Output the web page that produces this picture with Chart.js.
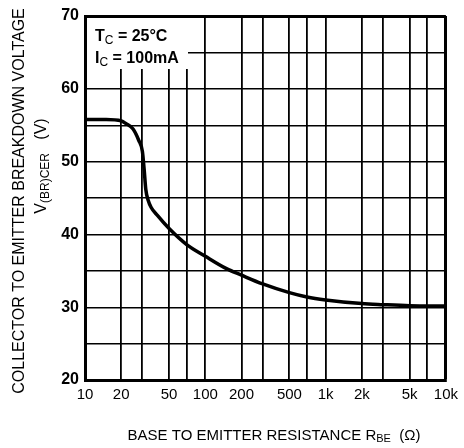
<!DOCTYPE html>
<html>
<head>
<meta charset="utf-8">
<script src="https://cdn.jsdelivr.net/npm/chart.js@4.4.1/dist/chart.umd.min.js"></script>
<style>
  html, body { margin: 0; padding: 0; background: #fff; }
  #wrap { width: 464px; height: 448px; }
</style>
</head>
<body>
<div id="wrap"><canvas id="grafico"></canvas></div>
<script>
// Curva V(BR)CER x RBE
const resistencia = [10, 15, 20, 22, 25, 28, 30, 31, 32, 33.5, 35.5, 40, 50, 70, 100, 150, 200, 300, 500, 700, 1000, 2000, 3000, 5000, 10000];
const tensao = [55.8, 55.8, 55.6, 55.2, 54.5, 52.9, 51.4, 49.0, 46.2, 44.7, 43.7, 42.6, 40.8, 38.6, 37.0, 35.3, 34.4, 33.2, 32.0, 31.4, 31.0, 30.5, 30.35, 30.2, 30.15];

// Grade e rótulos dos eixos
const gradeX = [10, 20, 30, 50, 70, 100, 200, 300, 500, 700, 1000, 2000, 3000, 5000, 7000, 10000];
const rotulosX = { 10: '10', 20: '20', 50: '50', 100: '100', 200: '200', 500: '500', 1000: '1k', 2000: '2k', 5000: '5k', 10000: '10k' };
const rotulosY = [20, 30, 40, 50, 60, 70];

const fonte = '"Liberation Sans", Arial, sans-serif';

// Desenha texto com trechos em subscrito
function textoComposto(ctx, partes, cx, cy) {
    let total = 0;
    partes.forEach(p => {
        ctx.font = p.f;
        total += ctx.measureText(p.t).width;
    });
    let x = cx - total / 2;
    partes.forEach(p => {
        ctx.font = p.f;
        ctx.fillText(p.t, x, cy + (p.dy || 0));
        x += ctx.measureText(p.t).width;
    });
}

const textosPlugin = {
    id: 'textos',
    afterDraw(chart) {
        const ctx = chart.ctx;
        ctx.save();
        ctx.textBaseline = 'alphabetic';

        // Caixa das condições
        ctx.fillStyle = '#fff';
        ctx.fillRect(87, 18, 101, 51);
        ctx.fillStyle = '#000';
        const big = 'bold 16px ' + fonte;
        const sub = '12px ' + fonte;
        ctx.textAlign = 'left';
        let x = 95;
        [{ t: 'T', f: big }, { t: 'C', f: sub, dy: 3 }, { t: ' = 25°C', f: big }].forEach(p => {
            ctx.font = p.f;
            ctx.fillText(p.t, x, 41 + (p.dy || 0));
            x += ctx.measureText(p.t).width;
        });
        x = 95;
        [{ t: 'I', f: big }, { t: 'C', f: sub, dy: 3 }, { t: ' = 100mA', f: big }].forEach(p => {
            ctx.font = p.f;
            ctx.fillText(p.t, x, 63 + (p.dy || 0));
            x += ctx.measureText(p.t).width;
        });

        // Título do eixo X
        textoComposto(ctx, [
            { t: 'BASE TO EMITTER RESISTANCE R', f: '15px ' + fonte },
            { t: 'BE', f: '11px ' + fonte, dy: 2 },
            { t: '  (Ω)', f: '15px ' + fonte }
        ], 274, 440);

        // Título do eixo Y
        ctx.save();
        ctx.translate(24, 201);
        ctx.rotate(-Math.PI / 2);
        textoComposto(ctx, [{ t: 'COLLECTOR TO EMITTER BREAKDOWN VOLTAGE', f: '16px ' + fonte }], 0, 0);
        ctx.restore();
        ctx.save();
        ctx.translate(46, 166);
        ctx.rotate(-Math.PI / 2);
        textoComposto(ctx, [
            { t: 'V', f: '16px ' + fonte },
            { t: '(BR)CER', f: '12px ' + fonte, dy: 3 },
            { t: '   (V)', f: '16px ' + fonte }
        ], 0, 0);
        ctx.restore();
        ctx.restore();
    }
};

document.addEventListener('DOMContentLoaded', function() {
    const ctx = document.getElementById('grafico').getContext('2d');

    const dados = {
        datasets: [{
            data: resistencia.map((r, i) => ({ x: r, y: tensao[i] })),
            borderColor: '#000',
            borderWidth: 3.5,
            pointRadius: 0,
            fill: false,
            cubicInterpolationMode: 'monotone'
        }]
    };

    new Chart(ctx, {
        type: 'line',
        data: dados,
        options: {
            responsive: true,
            maintainAspectRatio: false,
            animation: false,
            layout: {
                padding: { left: 0, top: 16, right: 17, bottom: 0 }
            },
            plugins: {
                legend: { display: false },
                tooltip: { enabled: false }
            },
            scales: {
                x: {
                    type: 'logarithmic',
                    min: 10,
                    max: 10000,
                    afterBuildTicks: function(scale) {
                        scale.ticks = gradeX.map(v => ({ value: v }));
                    },
                    afterFit: function(scale) {
                        scale.height = 68;
                    },
                    border: { display: true, color: '#000', width: 3 },
                    grid: {
                        color: '#000',
                        lineWidth: c => (c.tick && c.tick.value === 10000 ? 3 : 1.8),
                        drawTicks: false
                    },
                    ticks: {
                        autoSkip: false,
                        maxRotation: 0,
                        padding: 6,
                        color: '#000',
                        font: { family: fonte, size: 15 },
                        callback: function(value) {
                            return rotulosX[value] || '';
                        }
                    }
                },
                y: {
                    min: 20,
                    max: 70,
                    afterFit: function(scale) {
                        scale.width = 85;
                    },
                    border: { display: true, color: '#000', width: 3 },
                    grid: {
                        color: '#000',
                        lineWidth: c => (c.tick && c.tick.value === 70 ? 3 : 1.4),
                        drawTicks: false
                    },
                    ticks: {
                        stepSize: 5,
                        padding: 6,
                        color: '#000',
                        font: { family: fonte, size: 16, weight: 'bold' },
                        callback: function(value) {
                            return rotulosY.includes(value) ? String(value) : '';
                        }
                    }
                }
            }
        },
        plugins: [textosPlugin]
    });
});
</script>
</body>
</html>
